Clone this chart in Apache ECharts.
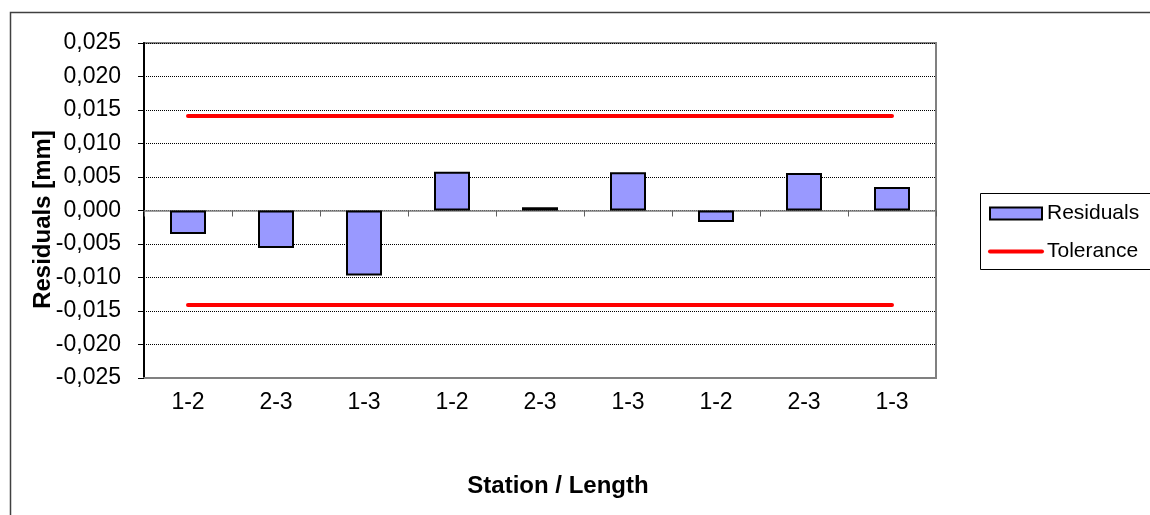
<!DOCTYPE html>
<html>
<head>
<meta charset="utf-8">
<script src="https://cdn.jsdelivr.net/npm/echarts@6/dist/echarts.min.js"></script>
<style>
  html, body { margin: 0; padding: 0; background: #fff; }
  #chart { width: 1150px; height: 515px; }
</style>
</head>
<body>
<div id="chart"></div>
<script>
// Station / length pairs along the x axis
const categories = ['1-2', '2-3', '1-3', '1-2', '2-3', '1-3', '1-2', '2-3', '1-3'];
// Measured residuals [mm]
const residuals = [-0.0035, -0.0056, -0.0097, 0.0058, 0.0005, 0.0057, -0.0017, 0.0056, 0.0035];
// Tolerance limits [mm]
const upperTolerance = [0.0141, 0.0141, 0.0141, 0.0141, 0.0141, 0.0141, 0.0141, 0.0141, 0.0141];
const lowerTolerance = [-0.0141, -0.0141, -0.0141, -0.0141, -0.0141, -0.0141, -0.0141, -0.0141, -0.0141];
// Value axis ticks
const yMin = -0.025, yMax = 0.025, yStep = 0.005;

const FONT = '"Liberation Sans", Arial, sans-serif';

const chart = echarts.init(document.getElementById('chart'), null, { renderer: 'canvas' });

chart.setOption({
  backgroundColor: '#ffffff',
  animation: false,
  textStyle: { fontFamily: FONT, color: '#000' },
  graphic: [
    // outer chart frame
    {
      type: 'rect', left: 8, top: 10, z: -10,
      shape: { width: 1400, height: 800 },
      style: { fill: 'none', stroke: '#404040', lineWidth: 1.5 }
    },
    // legend frame
    {
      type: 'rect', left: 980, top: 193, z: -5,
      shape: { width: 400, height: 76 },
      style: { fill: '#fff', stroke: '#000', lineWidth: 1 }
    }
  ],
  grid: {
    left: 144, right: 214, top: 43, bottom: 137,
    show: true, borderColor: '#808080', borderWidth: 2, backgroundColor: 'transparent'
  },
  legend: {
    orient: 'vertical',
    left: 988, top: 203, padding: 0,
    itemWidth: 52, itemHeight: 12, itemGap: 17,
    textStyle: { fontFamily: FONT, fontSize: 21, lineHeight: 20, color: '#000' },
    data: [
      { name: 'Residuals', icon: 'rect' },
      {
        name: 'Tolerance',
        itemStyle: { color: 'rgba(0,0,0,0)', borderWidth: 0 },
        lineStyle: { color: '#FF0000', width: 4 }
      }
    ]
  },
  xAxis: [
    {
      type: 'category',
      data: categories,
      position: 'bottom',
      name: 'Station / Length',
      nameLocation: 'middle',
      nameGap: 96,
      nameTextStyle: {
        fontFamily: FONT, fontSize: 24, fontWeight: 'bold', color: '#000',
        padding: [0, 0, 0, 36]
      },
      axisLine: { onZero: false, lineStyle: { color: '#808080', width: 2 } },
      axisTick: { show: false },
      axisLabel: { margin: 13, fontFamily: FONT, fontSize: 23, color: '#000' }
    },
    {
      // category axis drawn along the zero line
      type: 'category',
      data: categories,
      position: 'top',
      axisLine: { onZero: true, lineStyle: { color: '#808080', width: 1.5 } },
      axisTick: { show: true, inside: true, length: 6, lineStyle: { color: '#606060', width: 1 } },
      axisLabel: { show: false },
      splitLine: { show: false }
    }
  ],
  yAxis: {
    type: 'value',
    min: yMin, max: yMax, interval: yStep,
    name: 'Residuals [mm]',
    nameLocation: 'middle',
    nameRotate: 90,
    nameGap: 89,
    nameMoveOverlap: false,
    nameTextStyle: {
      fontFamily: FONT, fontSize: 24, fontWeight: 'bold', color: '#000',
      padding: [0, 18, 0, 0]
    },
    axisLine: { show: true, lineStyle: { color: '#000', width: 2 } },
    axisTick: { show: true, length: 6, lineStyle: { color: '#000', width: 1 } },
    axisLabel: {
      margin: 23, fontFamily: FONT, fontSize: 23, color: '#000',
      formatter: v => v.toFixed(3).replace('.', ',')
    },
    splitLine: { show: true, lineStyle: { color: '#000', width: 1, type: [1, 1] } }
  },
  series: [
    {
      name: 'Residuals',
      type: 'bar',
      data: residuals,
      barWidth: 36,
      itemStyle: { color: '#9999FF', borderColor: '#000', borderWidth: 2 },
      z: 3
    },
    {
      name: 'Tolerance',
      type: 'line',
      data: upperTolerance,
      symbol: 'none',
      lineStyle: { color: '#FF0000', width: 4, cap: 'round' },
      itemStyle: { color: '#FF0000' },
      z: 4
    },
    {
      name: 'Tolerance',
      type: 'line',
      data: lowerTolerance,
      symbol: 'none',
      lineStyle: { color: '#FF0000', width: 4, cap: 'round' },
      itemStyle: { color: '#FF0000' },
      z: 4
    }
  ]
});
</script>
</body>
</html>
